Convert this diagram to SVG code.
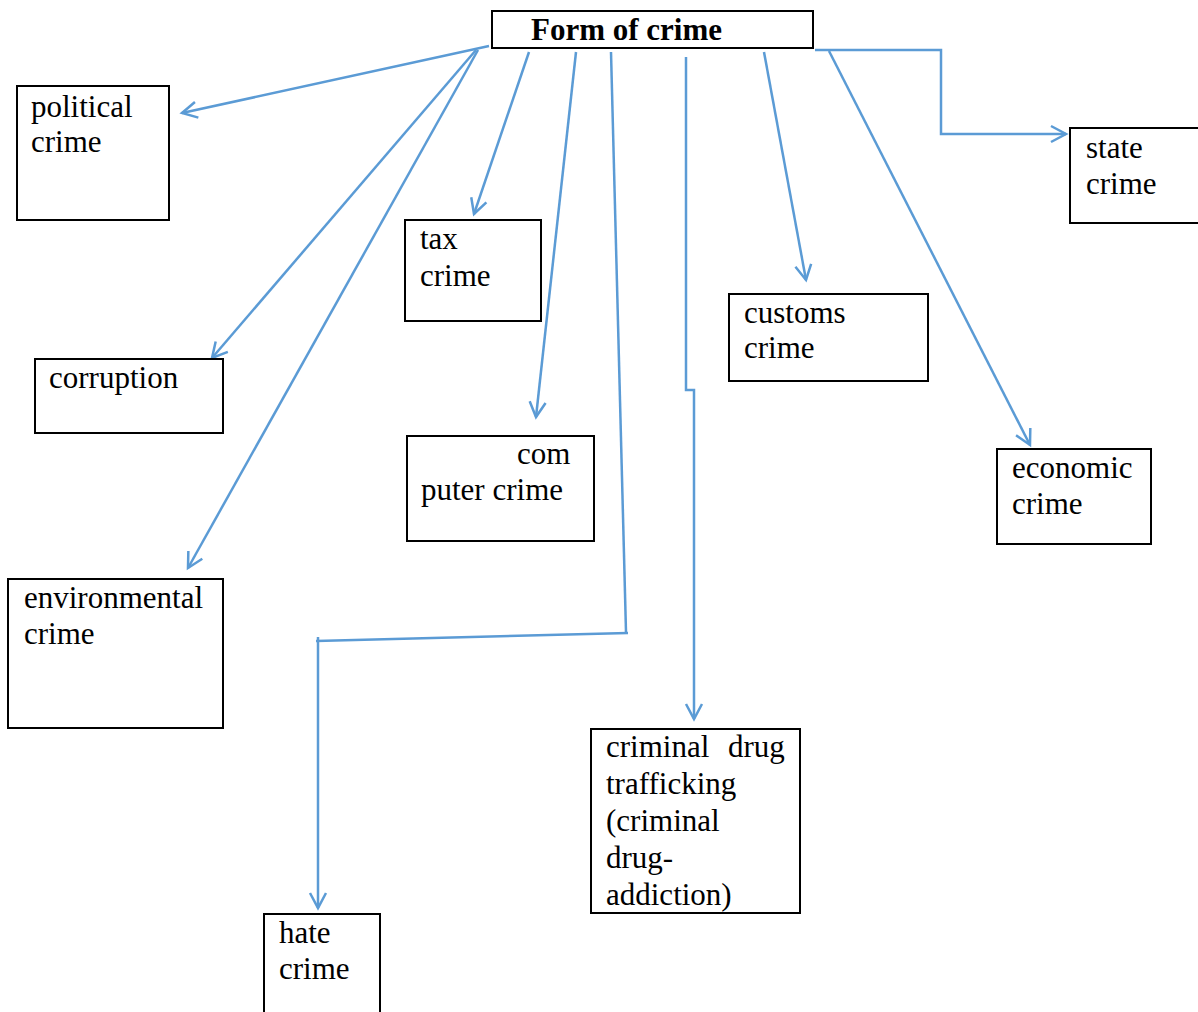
<svg xmlns="http://www.w3.org/2000/svg" width="1198" height="1012" viewBox="0 0 1198 1012">
<style>
.box{fill:#fff;stroke:#000;stroke-width:2}
.t{font-family:"Liberation Serif","Times New Roman",serif;font-size:31px;fill:#000}
.title{font-weight:bold}
.c{fill:none;stroke:#5B9BD5;stroke-width:2.5}
.a{marker-end:url(#arr)}
</style>
<defs>
<marker id="arr" markerUnits="userSpaceOnUse" markerWidth="30" markerHeight="30" refX="0" refY="0" viewBox="-20 -15 30 30" orient="auto" overflow="visible">
<path d="M-15,-8 L0,0 L-15,8" fill="none" stroke="#5B9BD5" stroke-width="2.5"/>
</marker>
</defs>
<g id="connectors">
<line class="c a" x1="489" y1="46" x2="182" y2="113"/>
<line class="c a" x1="476" y1="50" x2="212" y2="358"/>
<line class="c a" x1="478" y1="50" x2="188" y2="568"/>
<line class="c a" x1="529" y1="52" x2="474" y2="214"/>
<line class="c a" x1="576" y1="52" x2="536" y2="417"/>
<polyline class="c" points="611,52 626,632"/>
<polyline class="c" points="628,633 316,641"/>
<line class="c" x1="318" y1="637" x2="318" y2="641"/>
<line class="c a" x1="318" y1="641" x2="318" y2="908"/>
<polyline class="c a" points="686,57 686,390 694,390 694,719"/>
<line class="c a" x1="764" y1="52" x2="806" y2="280"/>
<line class="c a" x1="829" y1="51" x2="1030" y2="445"/>
<polyline class="c a" points="815,50 941,50 941,134 1066,134"/>
</g>
<g id="root">
<rect class="box" x="492" y="11" width="321" height="37"/>
<text class="t title" x="531" y="40">Form of crime</text>
</g>
<g id="political">
<rect class="box" x="17" y="86" width="152" height="134"/>
<text class="t" x="31" y="117">political</text>
<text class="t" x="31" y="152">crime</text>
</g>
<g id="corruption">
<rect class="box" x="35" y="359" width="188" height="74"/>
<text class="t" x="49" y="388">corruption</text>
</g>
<g id="environmental">
<rect class="box" x="8" y="579" width="215" height="149"/>
<text class="t" x="24" y="608">environmental</text>
<text class="t" x="24" y="644">crime</text>
</g>
<g id="tax">
<rect class="box" x="405" y="220" width="136" height="101"/>
<text class="t" x="420" y="249">tax</text>
<text class="t" x="420" y="286">crime</text>
</g>
<g id="computer">
<rect class="box" x="407" y="436" width="187" height="105"/>
<text class="t" x="517" y="464">com</text>
<text class="t" x="421" y="500">puter crime</text>
</g>
<g id="hate">
<rect class="box" x="264" y="914" width="116" height="110"/>
<text class="t" x="279" y="943">hate</text>
<text class="t" x="279" y="979">crime</text>
</g>
<g id="drug">
<rect class="box" x="591" y="729" width="209" height="184"/>
<text class="t" x="606" y="757" word-spacing="11">criminal drug</text>
<text class="t" x="606" y="794">trafficking</text>
<text class="t" x="606" y="831">(criminal</text>
<text class="t" x="606" y="868">drug-</text>
<text class="t" x="606" y="905">addiction)</text>
</g>
<g id="customs">
<rect class="box" x="729" y="294" width="199" height="87"/>
<text class="t" x="744" y="323">customs</text>
<text class="t" x="744" y="358">crime</text>
</g>
<g id="economic">
<rect class="box" x="997" y="449" width="154" height="95"/>
<text class="t" x="1012" y="478">economic</text>
<text class="t" x="1012" y="514">crime</text>
</g>
<g id="state">
<rect class="box" x="1070" y="128" width="140" height="95"/>
<text class="t" x="1086" y="158">state</text>
<text class="t" x="1086" y="194">crime</text>
</g>
</svg>
